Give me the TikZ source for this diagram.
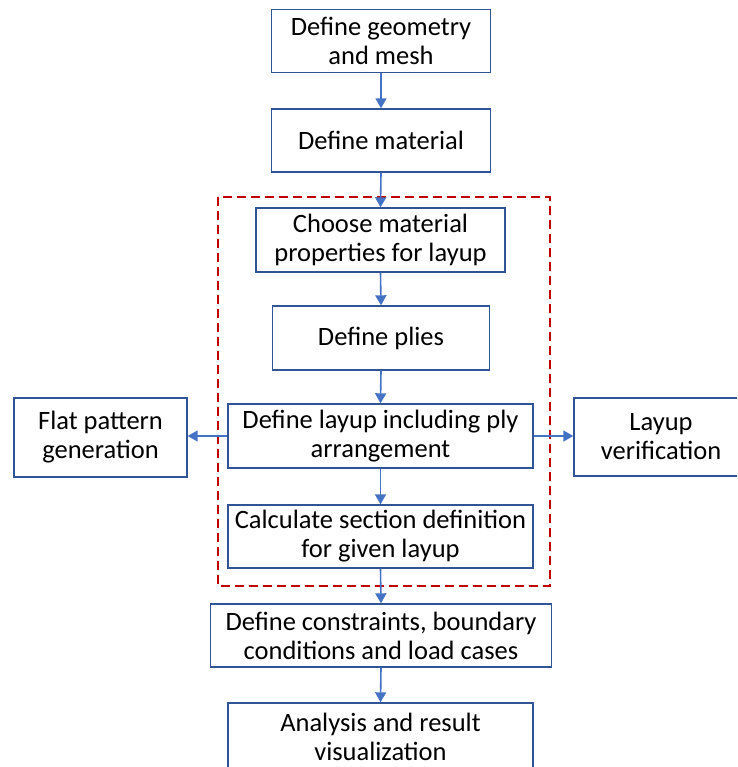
\documentclass[tikz,border=0pt]{standalone}
\usepackage{fontspec}
\setmainfont{Carlito}
\usetikzlibrary{arrows.meta}
\definecolor{boxblue}{HTML}{2F5597}
\definecolor{arrblue}{HTML}{4472C4}
\definecolor{dashred}{HTML}{C00000}
\tikzset{
  stepbox/.style={draw=boxblue, line width=1.4pt, fill=white, align=center,
    font=\fontsize{26.5}{29}\selectfont, inner sep=0pt, text=black},
  flow/.style={draw=arrblue, line width=1.6pt, -{Triangle[length=10pt,width=11pt]}},
  groupbox/.style={draw=dashred, line width=1.4pt, dash pattern=on 9pt off 5pt}
}
\begin{document}
\begin{tikzpicture}[x=1pt,y=-1pt]
\useasboundingbox (0,0) rectangle (737,767);
\clip (0,0) rectangle (737,767);
\fill[white] (0,0) rectangle (737,767);
\draw[groupbox] (218,197) rectangle (550,586);
\node[stepbox, minimum width=219pt, minimum height=63pt] (geo) at (381,41) {Define geometry\\and mesh};
\node[stepbox, minimum width=219pt, minimum height=63pt] (mat) at (381,140.5) {Define material};
\node[stepbox, minimum width=249pt, minimum height=64pt] (prop) at (380.5,240) {Choose material\\properties for layup};
\node[stepbox, minimum width=217pt, minimum height=64pt] (plies) at (381,338) {Define plies};
\node[stepbox, minimum width=305pt, minimum height=64pt] (layup) at (380.5,436) {Define layup including ply\\arrangement};
\node[stepbox, minimum width=173pt, minimum height=79pt] (flat) at (100.5,437.5) {Flat pattern\\generation};
\node[stepbox, minimum width=174pt, minimum height=78pt] (verif) at (661,437) {Layup\\verification};
\node[stepbox, minimum width=305pt, minimum height=63pt] (sect) at (380.5,536.5) {Calculate section definition\\for given layup};
\node[stepbox, minimum width=341pt, minimum height=63pt] (cons) at (381,635.5) {Define constraints, boundary\\conditions and load cases};
\node[stepbox, minimum width=305pt, minimum height=68pt] (ana) at (380.5,737) {Analysis and result\\visualization};
\draw[flow] (geo.south) -- (mat.north);
\draw[flow] (mat.south) -- (prop.north);
\draw[flow] (prop.south) -- (plies.north);
\draw[flow] (plies.south) -- (layup.north);
\draw[flow] (layup.south) -- (sect.north);
\draw[flow] (sect.south) -- (cons.north);
\draw[flow] (cons.south) -- (ana.north);
\draw[flow] (layup.west) -- (flat.east |- layup.west);
\draw[flow] (layup.east) -- (verif.west |- layup.east);
\end{tikzpicture}
\end{document}
